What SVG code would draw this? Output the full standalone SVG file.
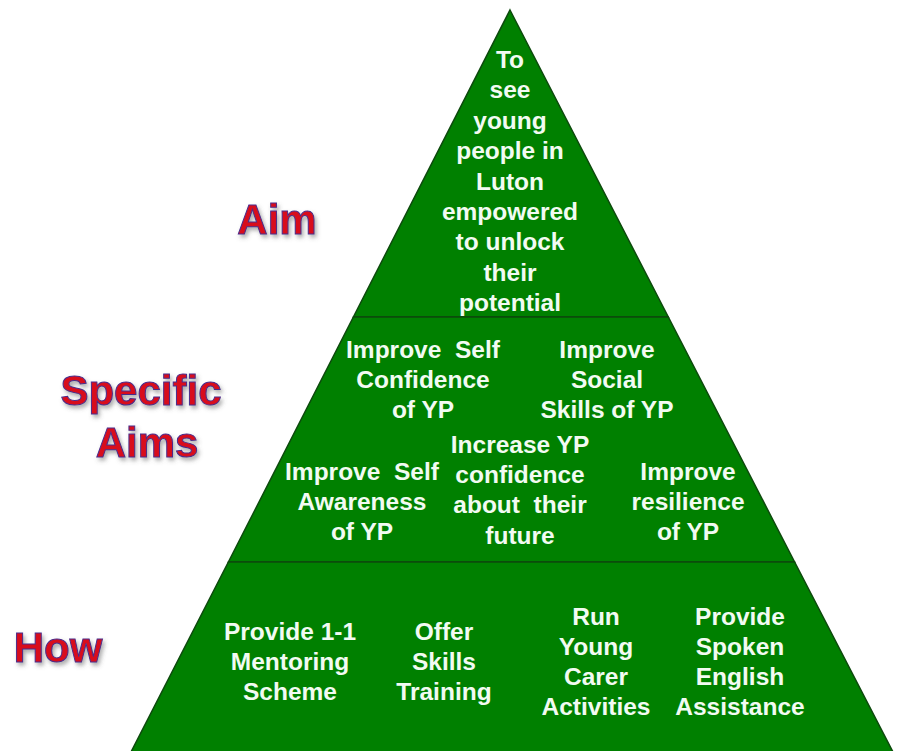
<svg xmlns="http://www.w3.org/2000/svg" width="897" height="751" viewBox="0 0 897 751">
  <defs>
    <filter id="shadow" x="-20%" y="-20%" width="140%" height="160%">
      <feDropShadow dx="2" dy="3" stdDeviation="2" flood-color="#555" flood-opacity="0.5"/>
    </filter>
  </defs>
  <style>
    .tier { fill: #008000; stroke: #0d4a0d; stroke-width: 1.5; stroke-linejoin: miter; }
    .t { font-family: "Liberation Sans", Arial, sans-serif; font-weight: bold; font-size: 24.5px; fill: #f2fbf2; text-anchor: middle; }
    .lab { font-family: "Liberation Sans", Arial, sans-serif; font-weight: bold; font-size: 42px; fill: #d8101e; stroke: #4a2c8c; stroke-width: 1; text-anchor: middle; filter: url(#shadow); }
  </style>
  <rect width="897" height="751" fill="#ffffff"/>

  <g id="tier-aim">
    <polygon class="tier" points="510,10 668.3,317 353.4,317"/>
    <text class="t" x="510" y="68">To</text>
    <text class="t" x="510" y="98.4">see</text>
    <text class="t" x="510" y="128.8">young</text>
    <text class="t" x="510" y="159.2">people in</text>
    <text class="t" x="510" y="189.6">Luton</text>
    <text class="t" x="510" y="220">empowered</text>
    <text class="t" x="510" y="250.4">to unlock</text>
    <text class="t" x="510" y="280.8">their</text>
    <text class="t" x="510" y="311.2">potential</text>
  </g>

  <g id="tier-specific">
    <polygon class="tier" points="353.4,317 668.3,317 794.6,562 228.4,562"/>
    <g id="node-self-confidence">
      <text class="t" x="423" y="358" xml:space="preserve">Improve  Self</text>
      <text class="t" x="423" y="388">Confidence</text>
      <text class="t" x="423" y="418">of YP</text>
    </g>
    <g id="node-social-skills">
      <text class="t" x="607" y="358">Improve</text>
      <text class="t" x="607" y="388">Social</text>
      <text class="t" x="607" y="418">Skills of YP</text>
    </g>
    <g id="node-self-awareness">
      <text class="t" x="362" y="480" xml:space="preserve">Improve  Self</text>
      <text class="t" x="362" y="510">Awareness</text>
      <text class="t" x="362" y="540">of YP</text>
    </g>
    <g id="node-future-confidence">
      <text class="t" x="520" y="453">Increase YP</text>
      <text class="t" x="520" y="483">confidence</text>
      <text class="t" x="520" y="513" xml:space="preserve">about  their</text>
      <text class="t" x="520" y="544">future</text>
    </g>
    <g id="node-resilience">
      <text class="t" x="688" y="480">Improve</text>
      <text class="t" x="688" y="510">resilience</text>
      <text class="t" x="688" y="540">of YP</text>
    </g>
  </g>

  <g id="tier-how">
    <polygon class="tier" points="228.4,562 794.6,562 893,752 131,752"/>
    <g id="node-mentoring">
      <text class="t" x="290" y="640">Provide 1-1</text>
      <text class="t" x="290" y="670">Mentoring</text>
      <text class="t" x="290" y="700">Scheme</text>
    </g>
    <g id="node-skills">
      <text class="t" x="444" y="640">Offer</text>
      <text class="t" x="444" y="670">Skills</text>
      <text class="t" x="444" y="700">Training</text>
    </g>
    <g id="node-young-carer">
      <text class="t" x="596" y="625">Run</text>
      <text class="t" x="596" y="655">Young</text>
      <text class="t" x="596" y="685">Carer</text>
      <text class="t" x="596" y="715">Activities</text>
    </g>
    <g id="node-english">
      <text class="t" x="740" y="625">Provide</text>
      <text class="t" x="740" y="655">Spoken</text>
      <text class="t" x="740" y="685">English</text>
      <text class="t" x="740" y="715">Assistance</text>
    </g>
  </g>

  <g id="labels">
    <text class="lab" x="277" y="234">Aim</text>
    <text class="lab" x="141" y="405">Specific</text>
    <text class="lab" x="147" y="457">Aims</text>
    <text class="lab" x="58" y="662">How</text>
  </g>

  <g id="connectors"></g>
</svg>
